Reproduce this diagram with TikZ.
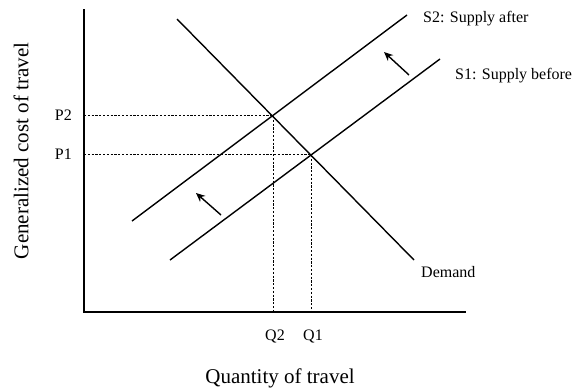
\documentclass[tikz,border=0pt]{standalone}
\usepackage{fontspec}
\setmainfont{Liberation Serif}
\usetikzlibrary{positioning, arrows.meta}
\definecolor{figink}{HTML}{000000}

\begin{document}
\begin{tikzpicture}[
  x=1pt, y=-1pt,
  line cap=butt, line join=miter,
  >=Stealth,
  axis/.style  = {draw=figink, line width=2.6pt},
  curve/.style = {draw=figink, line width=1.4pt},
  guide/.style = {draw=figink, line width=0.8pt, dash pattern=on 2.2pt off 1.6pt},
  movearrow/.style = {draw=figink, line width=1.4pt, -{Stealth[length=9pt, width=8pt]}},
  tick/.style  = {font=\fontsize{16}{18}\selectfont, inner sep=1pt},
  lbl/.style   = {font=\fontsize{16}{18}\selectfont, inner sep=1pt},
  ttl/.style   = {font=\fontsize{21}{24}\selectfont, inner sep=1pt}
]
\useasboundingbox (0,0) rectangle (578,391);

% axes
\coordinate (o)    at (84,312);
\coordinate (ytop) at (84,9);
\coordinate (xend) at (466,312);
\draw[axis] (ytop) -- (o) -- (xend);

% demand and supply
\coordinate (d1)  at (177,19);
\coordinate (d2)  at (414,260);
\coordinate (s1a) at (170,260);
\coordinate (s1b) at (440,59);
\coordinate (s2a) at (132,221);
\coordinate (s2b) at (407,15);
\draw[curve] (d1) -- (d2);
\draw[curve] (s1a) -- (s1b);
\draw[curve] (s2a) -- (s2b);

% equilibria
\coordinate (e1) at (311,154);
\coordinate (e2) at (273,115);
\coordinate (p1) at (84,154);
\coordinate (p2) at (84,115);
\coordinate (q1) at (311,312);
\coordinate (q2) at (273,312);
\draw[guide] (p1) -- (e1) -- (q1);
\draw[guide] (p2) -- (e2) -- (q2);

% shift of supply
\coordinate (a1) at (409,75);
\coordinate (b1) at (384,52);
\coordinate (a2) at (221,215);
\coordinate (b2) at (196,193);
\draw[movearrow] (a1) -- (b1);
\draw[movearrow] (a2) -- (b2);

% labels
\node[tick, left=11pt of p2] (lp2) {P2};
\node[tick, left=11pt of p1] (lp1) {P1};
\node[tick] (lq2) at (275,336) {Q2};
\node[tick] (lq1) at (313,336) {Q1};
\node[lbl, anchor=west] (ls2) at (422,19) {S2: Supply after};
\node[lbl, anchor=west] (ls1) at (454,76) {S1: Supply before};
\node[lbl, anchor=west] (ld)  at (420,272) {Demand};
\node[ttl] (xt) at (280,378) {Quantity of travel};
\node[ttl, rotate=90] (yt) at (21,151) {Generalized cost of travel};

\end{tikzpicture}
\end{document}
